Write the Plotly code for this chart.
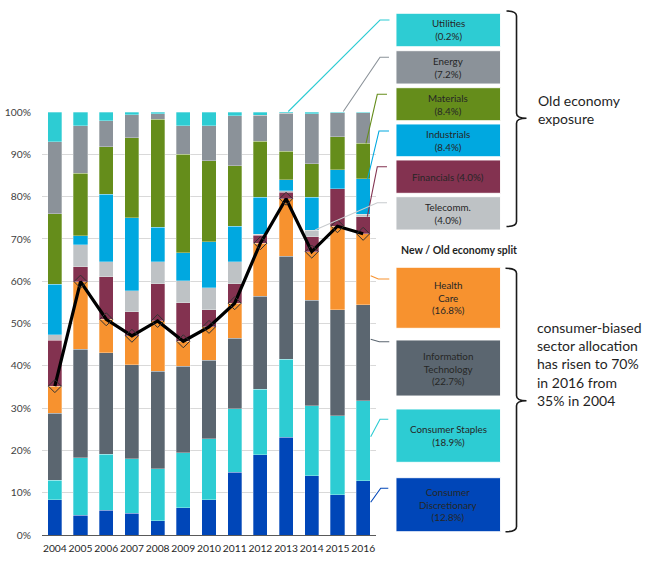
import plotly.graph_objects as go

# ---------------- data (percent of index) ----------------
years = ['2004', '2005', '2006', '2007', '2008', '2009', '2010',
         '2011', '2012', '2013', '2014', '2015', '2016']

cons_disc    = [8.3, 4.7, 5.9, 5.2, 3.4, 6.5, 8.3, 14.8, 19.0, 23.1, 14.0, 9.5, 12.8]
cons_staples = [4.7, 13.6, 13.2, 12.8, 12.3, 12.9, 14.4, 15.1, 15.5, 18.4, 16.6, 18.7, 18.9]
info_tech    = [15.8, 25.6, 24.0, 22.2, 23.0, 20.5, 18.6, 16.6, 21.9, 24.4, 24.9, 25.0, 22.7]
health_care  = [6.4, 16.0, 7.9, 6.9, 11.9, 5.9, 7.9, 8.3, 12.6, 13.6, 11.5, 19.8, 16.8]
financials   = [10.9, 3.5, 10.1, 5.7, 8.8, 9.1, 4.0, 4.6, 1.9, 1.5, 3.5, 8.8, 4.0]
telecomm     = [1.2, 5.2, 3.5, 5.0, 5.2, 5.2, 5.3, 5.2, 0.2, 0.4, 1.5, 0.0, 0.6]
industrials  = [12.0, 2.2, 16.0, 17.2, 8.1, 6.6, 10.8, 8.4, 8.8, 2.6, 7.9, 4.6, 8.4]
materials    = [16.6, 14.7, 11.2, 18.9, 25.6, 23.3, 19.2, 14.3, 13.2, 6.7, 7.9, 7.7, 8.4]
energy       = [17.1, 11.3, 6.1, 5.5, 1.3, 6.7, 8.2, 11.8, 6.1, 9.0, 11.8, 5.7, 7.2]
utilities    = [7.0, 3.2, 2.1, 0.6, 0.4, 3.3, 3.3, 0.9, 0.8, 0.3, 0.4, 0.2, 0.2]

new_old_split = [35.2, 59.9, 51.0, 47.1, 50.6, 45.8, 49.2, 54.8, 69.0, 79.5, 67.0, 73.0, 71.2]

y_ticks = [0, 10, 20, 30, 40, 50, 60, 70, 80, 90, 100]
y_tick_labels = ['0%', '10%', '20%', '30%', '40%', '50%', '60%', '70%', '80%', '90%', '100%']

box_labels_old = ['Utilities<br>(0.2%)', 'Energy<br>(7.2%)', 'Materials<br>(8.4%)',
                  'Industrials<br>(8.4%)', 'Financials (4.0%)', 'Telecomm.<br>(4.0%)']
box_labels_new = ['Health<br>Care<br>(16.8%)', 'Information<br>Technology<br>(22.7%)',
                  'Consumer Staples<br>(18.9%)', 'Consumer<br>Discretionary<br>(12.8%)']

# ---------------- styles ----------------
C_CD = '#0046B8'
C_CS = '#2DCCD3'
C_IT = '#5B6670'
C_HC = '#F7922F'
C_FIN = '#833250'
C_TEL = '#BEC2C5'
C_IND = '#00A8E0'
C_MAT = '#658D1B'
C_EN = '#8B9299'
C_UT = '#2DCCD3'

FONT = 'Lato, "Open Sans", sans-serif'

series = [
    ('Consumer Discretionary', cons_disc, C_CD),
    ('Consumer Staples', cons_staples, C_CS),
    ('Information Technology', info_tech, C_IT),
    ('Health Care', health_care, C_HC),
    ('Financials', financials, C_FIN),
    ('Telecomm.', telecomm, C_TEL),
    ('Industrials', industrials, C_IND),
    ('Materials', materials, C_MAT),
    ('Energy', energy, C_EN),
    ('Utilities', utilities, C_UT),
]

fig = go.Figure()
for name, vals, col in series:
    fig.add_trace(go.Bar(
        x=years, y=vals, name=name,
        marker=dict(color=col, line=dict(color='rgba(255,255,255,0.6)', width=0.5)),
    ))

fig.add_trace(go.Scatter(
    x=years, y=new_old_split, name='New / Old economy split',
    mode='lines+markers',
    line=dict(color='#000000', width=3.2),
    marker=dict(symbol='diamond-open', size=10, color='#333333', line=dict(width=1)),
))

# ---------------- layout geometry (pixels -> paper) ----------------
W, H = 645, 567
PL, PR, PT, PB = 42, 376, 112, 535


def pxx(x):
    return (x - PL) / (PR - PL)


def pxy(y):
    return (PB - y) / (PB - PT)


shapes = []
annotations = []

# boxes
old_boxes = [
    (13.3, 46.7, C_UT), (50.7, 84.0, C_EN), (87.7, 120.7, C_MAT),
    (124.0, 156.7, C_IND), (160.0, 193.3, C_FIN), (196.7, 230.0, C_TEL),
]
new_boxes = [
    (267.3, 328.3, C_HC), (340.0, 396.0, C_IT), (409.0, 462.3, C_CS), (477.7, 531.7, C_CD),
]
BX0, BX1 = 396, 500.5
for (y0, y1, col), lab in list(zip(old_boxes, box_labels_old)) + list(zip(new_boxes, box_labels_new)):
    shapes.append(dict(type='rect', xref='paper', yref='paper',
                       x0=pxx(BX0), x1=pxx(BX1), y0=pxy(y1), y1=pxy(y0),
                       fillcolor=col, line=dict(color='rgba(255,255,255,0.9)', width=1),
                       layer='above'))
    annotations.append(dict(xref='paper', yref='paper', x=pxx((BX0 + BX1) / 2), y=pxy((y0 + y1) / 2),
                            text=lab, showarrow=False, xanchor='center', yanchor='middle',
                            font=dict(family=FONT, size=9.8, color='#262626'), align='center'))

# connector lines: (start px, kink px, end px)
connectors = [
    ((288.3, 111.5), (380.0, 20.0), (389.5, 20.0), C_UT),
    ((343.3, 111.5), (380.0, 57.3), (389.0, 57.3), C_EN),
    ((366.0, 143.3), (377.3, 94.3), (387.0, 94.3), C_MAT),
    ((367.3, 180.0), (379.0, 131.0), (389.0, 131.0), C_IND),
    ((367.3, 216.7), (377.3, 166.7), (387.0, 166.7), C_FIN),
    ((315.0, 230.0), (377.3, 202.7), (387.0, 202.7), '#C8CBCE'),
    ((370.7, 275.7), (378.3, 279.0), (389.3, 279.0), C_HC),
    ((370.7, 339.3), (379.3, 341.7), (389.3, 341.7), C_IT),
    ((370.7, 436.7), (380.0, 419.3), (388.3, 419.3), C_CS),
    ((370.7, 502.3), (380.7, 488.3), (388.3, 488.3), C_CD),
]
for (a, b, c, col) in connectors:
    path = 'M {:.4f},{:.4f} L {:.4f},{:.4f} L {:.4f},{:.4f}'.format(
        pxx(a[0]), pxy(a[1]), pxx(b[0]), pxy(b[1]), pxx(c[0]), pxy(c[1]))
    shapes.append(dict(type='path', xref='paper', yref='paper', path=path,
                       line=dict(color=col, width=1.1), layer='above'))


def brace(x_left, x_mid, x_tip, y_top, y_mid, y_bot):
    r = 5
    pts = [
        ('M', x_left, y_top),
        ('Q', x_mid, y_top, x_mid, y_top + r),
        ('L', x_mid, y_mid - r),
        ('Q', x_mid, y_mid, x_tip, y_mid),
        ('Q', x_mid, y_mid, x_mid, y_mid + r),
        ('L', x_mid, y_bot - r),
        ('Q', x_mid, y_bot, x_left, y_bot),
    ]
    s = []
    for p in pts:
        cmd = p[0]
        coords = p[1:]
        parts = []
        for i in range(0, len(coords), 2):
            parts.append('{:.4f},{:.4f}'.format(pxx(coords[i]), pxy(coords[i + 1])))
        s.append(cmd + ' ' + ' '.join(parts))
    return ' '.join(s)


shapes.append(dict(type='path', xref='paper', yref='paper',
                   path=brace(506.5, 516.5, 526.5, 11.0, 118.3, 226.5),
                   line=dict(color='#1A1A1A', width=1.6), layer='above'))
shapes.append(dict(type='path', xref='paper', yref='paper',
                   path=brace(505.5, 516.5, 526.5, 268.3, 400.7, 531.7),
                   line=dict(color='#1A1A1A', width=1.6), layer='above'))

annotations.append(dict(xref='paper', yref='paper', x=pxx(535.5), y=pxy(109.5),
                        text='Old economy<br>exposure', showarrow=False,
                        xanchor='left', yanchor='middle', align='left',
                        font=dict(family=FONT, size=14, color='#1F1F1F')))
annotations.append(dict(xref='paper', yref='paper', x=pxx(534.5), y=pxy(364.3),
                        text='consumer-biased<br>sector allocation<br>has risen to 70%<br>in 2016 from<br>35% in 2004',
                        showarrow=False, xanchor='left', yanchor='middle', align='left',
                        font=dict(family=FONT, size=14, color='#1F1F1F')))
annotations.append(dict(xref='paper', yref='paper', x=pxx(459), y=pxy(250),
                        text='<b>New / Old economy split</b>', showarrow=False,
                        xanchor='center', yanchor='middle',
                        font=dict(family=FONT, size=10.5, color='#1F1F1F')))

fig.update_layout(
    width=W, height=H,
    margin=dict(l=PL, r=W - PR, t=PT, b=H - PB, pad=0, autoexpand=False),
    barmode='stack', bargap=0.45,
    showlegend=False,
    plot_bgcolor='white', paper_bgcolor='white',
    font=dict(family=FONT, size=11, color='#404040'),
    shapes=shapes, annotations=annotations,
)
fig.update_xaxes(type='category', range=[-0.5, 12.5], showgrid=False, automargin=False,
                 showline=True, linecolor='#595959', linewidth=1,
                 ticks='outside', ticklen=4, tickcolor='rgba(0,0,0,0)', tickangle=0,
                 tickfont=dict(family=FONT, size=10.3, color='#262626'))
fig.update_yaxes(range=[0, 100], tickvals=y_ticks, ticktext=y_tick_labels, automargin=False,
                 showgrid=True, gridcolor='#D9D9D9', gridwidth=1,
                 zeroline=False, showline=False,
                 ticks='outside', ticklen=8, tickcolor='rgba(0,0,0,0)',
                 tickfont=dict(family=FONT, size=10.3, color='#404040'))

fig.write_html('out.html',
               config={'displayModeBar': False},
               post_script="document.body.style.margin='0px';document.body.style.padding='0px';"
                           "document.documentElement.style.overflow='hidden';")
